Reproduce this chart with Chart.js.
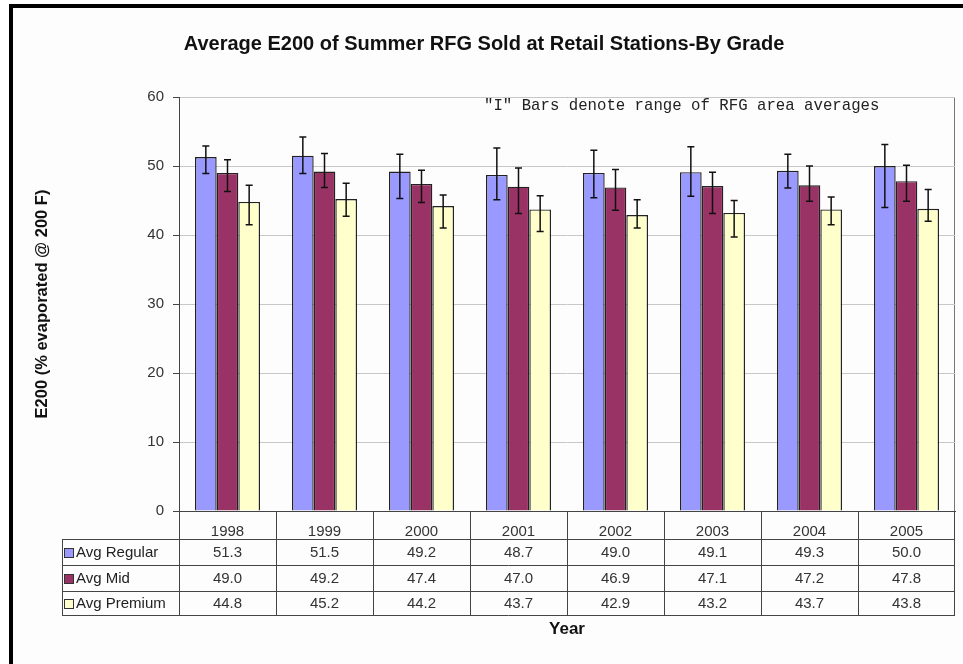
<!DOCTYPE html>
<html>
<head>
<meta charset="utf-8">
<title>Average E200 of Summer RFG</title>
<script src="https://cdn.jsdelivr.net/npm/chart.js@4/dist/chart.umd.min.js"></script>
<style>
  body { margin: 0; background: #fff; }
  #frame {
    position: absolute; left: 9px; top: 4px;
    border-left: 4px solid #000; border-top: 4px solid #000;
    width: 950px; height: 656px; background: #fdfdfd;
  }
  canvas { display: block; }
</style>
</head>
<body>
<div id="frame"><canvas id="myChart" width="950" height="656"></canvas></div>
<script>
// data
var years = ["1998", "1999", "2000", "2001", "2002", "2003", "2004", "2005"];
var avgRegular = [51.3, 51.5, 49.2, 48.7, 49.0, 49.1, 49.3, 50.0];
var avgMid = [49.0, 49.2, 47.4, 47.0, 46.9, 47.1, 47.2, 47.8];
var avgPremium = [44.8, 45.2, 44.2, 43.7, 42.9, 43.2, 43.7, 43.8];

// "I" bars: range of RFG area averages
var regularHigh = [52.9, 54.2, 51.7, 52.6, 52.3, 52.8, 51.7, 53.1];
var regularLow = [48.9, 48.9, 45.3, 45.1, 45.4, 45.6, 46.8, 44.0];
var midHigh = [50.9, 51.8, 49.4, 49.7, 49.5, 49.1, 50.0, 50.1];
var midLow = [46.3, 46.9, 44.7, 43.1, 43.6, 43.1, 44.9, 44.9];
var premiumHigh = [47.2, 47.5, 45.8, 45.7, 45.1, 45.0, 45.5, 46.6];
var premiumLow = [41.5, 42.7, 41.0, 40.5, 41.0, 39.7, 41.5, 42.0];

var seriesNames = ["Avg Regular", "Avg Mid", "Avg Premium"];
var seriesColors = ["#9999ff", "#993366", "#ffffcc"];

var ranges = [
    { high: regularHigh, low: regularLow },
    { high: midHigh, low: midLow },
    { high: premiumHigh, low: premiumLow }
];

var errorBars = {
    id: 'errorBars',
    afterDatasetsDraw: function (chart) {
        var ctx = chart.ctx;
        var y = chart.scales.y;
        ctx.save();
        ctx.strokeStyle = "#111";
        ctx.lineWidth = 1.5;
        ranges.forEach(function (r, d) {
            var meta = chart.getDatasetMeta(d);
            meta.data.forEach(function (bar, i) {
                var top = y.getPixelForValue(r.high[i]);
                var bot = y.getPixelForValue(r.low[i]);
                ctx.beginPath();
                ctx.moveTo(bar.x, top); ctx.lineTo(bar.x, bot);
                ctx.moveTo(bar.x - 3.5, top); ctx.lineTo(bar.x + 3.5, top);
                ctx.moveTo(bar.x - 3.5, bot); ctx.lineTo(bar.x + 3.5, bot);
                ctx.stroke();
            });
        });
        ctx.restore();
    }
};

var dataTable = {
    id: 'dataTable',
    beforeDraw: function (chart) {
        // plot frame (top and right edges)
        var a = chart.chartArea;
        var ctx = chart.ctx;
        ctx.save();
        ctx.strokeStyle = "#777";
        ctx.lineWidth = 1;
        ctx.strokeRect(a.left + 0.5, a.top + 0.5, a.right - a.left - 1, a.bottom - a.top);
        ctx.restore();
    },
    afterDraw: function (chart) {
        var ctx = chart.ctx;
        var x = chart.scales.x;
        var a = chart.chartArea;
        var step = x.getPixelForValue(1) - x.getPixelForValue(0);
        var tableLeft = 49;
        var lines = [a.bottom, a.bottom + 28, a.bottom + 54, a.bottom + 80, a.bottom + 104];

        ctx.save();
        ctx.strokeStyle = "#444";
        ctx.lineWidth = 1;
        ctx.beginPath();
        // header row outline
        ctx.moveTo(a.left, lines[0] + 0.5); ctx.lineTo(a.right, lines[0] + 0.5);
        for (var r = 1; r < lines.length; r++) {
            ctx.moveTo(tableLeft, lines[r] + 0.5); ctx.lineTo(a.right, lines[r] + 0.5);
        }
        ctx.moveTo(tableLeft + 0.5, lines[1]); ctx.lineTo(tableLeft + 0.5, lines[4]);
        for (var c = 0; c <= years.length; c++) {
            var bx = Math.round(x.getPixelForValue(c) - step / 2) + 0.5;
            if (c === years.length) bx = a.right - 0.5;
            ctx.moveTo(bx, lines[0]); ctx.lineTo(bx, lines[4]);
        }
        ctx.stroke();

        // row headers with legend keys and values
        ctx.font = "15px Arial, 'Liberation Sans', sans-serif";
        ctx.textBaseline = "middle";
        var rows = [avgRegular, avgMid, avgPremium];
        rows.forEach(function (vals, k) {
            var cy = (lines[k + 1] + lines[k + 2]) / 2 + 1;
            ctx.fillStyle = seriesColors[k];
            ctx.fillRect(tableLeft + 2, cy - 4.5, 9, 9);
            ctx.strokeStyle = "#333";
            ctx.strokeRect(tableLeft + 2.5, cy - 4.5, 9, 9);
            ctx.fillStyle = "#222";
            ctx.textAlign = "left";
            ctx.fillText(seriesNames[k], tableLeft + 14, cy);
            ctx.fillStyle = "#333";
            ctx.textAlign = "center";
            vals.forEach(function (v, i) {
                ctx.fillText(v.toFixed(1), x.getPixelForValue(i), cy);
            });
        });

        // note about the I bars
        ctx.fillStyle = "#222";
        ctx.textAlign = "left";
        ctx.font = "15.7px 'Liberation Mono', 'Courier New', monospace";
        ctx.fillText('"I" Bars denote range of RFG area averages', 471, a.top + 9);
        ctx.restore();
    }
};

var ctx = document.getElementById("myChart").getContext('2d');

var myChart = new Chart(ctx, {
    type: 'bar',
    data: {
        labels: years,
        datasets: [
            { label: seriesNames[0], data: avgRegular, backgroundColor: seriesColors[0] },
            { label: seriesNames[1], data: avgMid, backgroundColor: seriesColors[1] },
            { label: seriesNames[2], data: avgPremium, backgroundColor: seriesColors[2] }
        ]
    },
    options: {
        responsive: false,
        animation: false,
        layout: { padding: { left: 0, right: 8, top: 0, bottom: 0 } },
        datasets: {
            bar: {
                categoryPercentage: 0.67,
                barPercentage: 1.0,
                borderColor: "#222",
                borderWidth: 1.4
            }
        },
        plugins: {
            legend: { display: false },
            tooltip: { enabled: false },
            title: {
                display: true,
                text: "Average E200 of Summer RFG Sold at Retail Stations-By Grade",
                color: "#111",
                font: { family: "Arial, 'Liberation Sans', sans-serif", size: 20, weight: 'bold' },
                padding: { top: 24, bottom: 41 }
            }
        },
        scales: {
            x: {
                grid: { display: false },
                border: { display: true, color: "#444", width: 1 },
                ticks: {
                    color: "#333",
                    padding: 4,
                    font: { family: "Arial, 'Liberation Sans', sans-serif", size: 15 }
                },
                title: {
                    display: true,
                    text: "Year",
                    color: "#111",
                    font: { family: "Arial, 'Liberation Sans', sans-serif", size: 17, weight: 'bold' },
                    padding: { top: 0, bottom: 24 }
                },
                afterFit: function (scale) { scale.height = 153; }
            },
            y: {
                min: 0,
                max: 60,
                ticks: {
                    stepSize: 10,
                    color: "#333",
                    padding: 9,
                    font: { family: "Arial, 'Liberation Sans', sans-serif", size: 15 }
                },
                grid: { color: "#c8c8c8", tickColor: "#444", tickLength: 6 },
                border: { display: true, color: "#444", width: 1 },
                title: {
                    display: true,
                    text: "E200 (% evaporated @ 200 F)",
                    color: "#111",
                    font: { family: "Arial, 'Liberation Sans', sans-serif", size: 16.5, weight: 'bold' },
                    padding: { top: 20, bottom: 0 }
                },
                afterFit: function (scale) { scale.width = 166; }
            }
        }
    },
    plugins: [errorBars, dataTable]
});
</script>
</body>
</html>
